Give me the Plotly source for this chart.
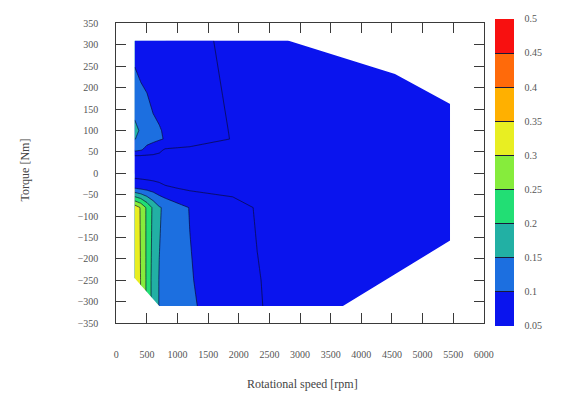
import plotly.graph_objects as go

# ---- data -----------------------------------------------------------------
# Grid of operating points: rotational speed [rpm] x torque [Nm]
speed = [300, 400, 500, 600, 700, 800, 1200, 1900, 2300, 3000, 4500, 5450]
torque = [-310, -250, -80, -35, 0, 40, 55, 80, 100, 310]

# Loss ratio at each (torque row, speed column)
loss_m310 = [0.340, 0.298, 0.240, 0.180, 0.148, 0.140, 0.108, 0.062, 0.053, 0.030, 0.020, 0.020]
loss_m250 = [0.340, 0.298, 0.240, 0.180, 0.148, 0.140, 0.104, 0.060, 0.052, 0.030, 0.020, 0.020]
loss_m80 = [0.330, 0.295, 0.240, 0.190, 0.155, 0.140, 0.098, 0.065, 0.047, 0.032, 0.020, 0.020]
loss_m35 = [0.101, 0.092, 0.085, 0.078, 0.068, 0.057, 0.043, 0.038, 0.034, 0.030, 0.025, 0.020]
loss_0 = [0.025, 0.024, 0.023, 0.022, 0.022, 0.021, 0.020, 0.020, 0.020, 0.020, 0.020, 0.020]
loss_40 = [0.045, 0.044, 0.043, 0.042, 0.041, 0.040, 0.038, 0.035, 0.030, 0.025, 0.020, 0.020]
loss_55 = [0.115, 0.105, 0.085, 0.075, 0.060, 0.045, 0.040, 0.035, 0.030, 0.025, 0.020, 0.020]
loss_80 = [0.152, 0.135, 0.120, 0.112, 0.105, 0.097, 0.075, 0.048, 0.040, 0.030, 0.025, 0.020]
loss_100 = [0.160, 0.145, 0.130, 0.110, 0.103, 0.095, 0.076, 0.047, 0.040, 0.030, 0.025, 0.020]
loss_310 = [0.075, 0.061, 0.058, 0.057, 0.056, 0.056, 0.055, 0.046, 0.040, 0.030, 0.025, 0.020]

loss = [loss_m310, loss_m250, loss_m80, loss_m35, loss_0,
        loss_40, loss_55, loss_80, loss_100, loss_310]

# Torque envelope of the machine (upper and lower limit curves)
env_top_speed = [300, 2800, 4550, 5450]
env_top_torque = [310, 310, 232, 160]
env_bot_speed = [300, 700, 3700, 5450]
env_bot_torque = [-245, -310, -310, -157]

# Contour levels and band colours
levels = [0.05, 0.1, 0.15, 0.2, 0.25, 0.3, 0.35, 0.4, 0.45, 0.5]
level_labels = ["0.05", "0.1", "0.15", "0.2", "0.25", "0.3", "0.35", "0.4", "0.45", "0.5"]
band_colors = ["#0a14ee", "#1c6fe0", "#22b0a4", "#22de74", "#86ec3c",
               "#e8ee22", "#ffb000", "#ff6a0a", "#f81010"]

x_ticks = [0, 500, 1000, 1500, 2000, 2500, 3000, 3500, 4000, 4500, 5000, 5500, 6000]
y_ticks = [350, 300, 250, 200, 150, 100, 50, 0, -50, -100, -150, -200, -250, -300, -350]

# ---- styling ---------------------------------------------------------------
W, H = 569, 399
x_range = [0, 6000]
y_range = [-350, 350]
step = levels[1] - levels[0]
n_lev = len(levels)
n_band = n_lev - 1
sep_col = "#1a1a3a"

# colour scale for the contour fills (evaluated at band centres)
contour_scale = [[0.0, band_colors[0]]]
for i, c in enumerate(band_colors):
    contour_scale.append([(i + 1) / n_lev, c])
contour_scale.append([1.0, band_colors[-1]])

# stepped colour scale for the colour bar, with thin dark separators
bar_len_px = 307
d = 0.6 / bar_len_px
bar_scale = []
for i, c in enumerate(band_colors):
    lo, hi = i / n_band, (i + 1) / n_band
    if i > 0:
        bar_scale.append([lo + d, sep_col])
        bar_scale.append([lo + d, c])
    else:
        bar_scale.append([lo, c])
    if i < n_band - 1:
        bar_scale.append([hi - d, c])
        bar_scale.append([hi - d, sep_col])
    else:
        bar_scale.append([hi, c])

serif = "Liberation Serif, serif"
tick_font = dict(family=serif, size=10, color="#555555")
title_font = dict(family=serif, size=12, color="#444444")
frame_col = "#3a3a3a"

px = lambda v: v / W
py = lambda v: 1 - v / H

fig = go.Figure()

# cell map of the same grid (grid points used as cell edges); it lies fully
# underneath the contour fill and supplies the stepped colour bar
cell_loss = [row[:-1] for row in loss[:-1]]
fig.add_trace(go.Heatmap(
    x=speed, y=torque, z=cell_loss,
    colorscale=bar_scale, zmin=levels[0], zmax=levels[-1],
    hoverinfo="skip",
    colorbar=dict(
        thickness=19, thicknessmode="pixels",
        len=bar_len_px, lenmode="pixels",
        x=px(503), xanchor="left", xpad=0,
        y=py(18 + bar_len_px / 2), yanchor="middle", ypad=0,
        outlinewidth=0,
        tickvals=levels, ticktext=level_labels,
        ticks="outside", ticklen=9, tickcolor="rgba(0,0,0,0)",
        tickfont=tick_font,
    ),
))

fig.add_trace(go.Contour(
    x=speed, y=torque, z=loss,
    colorscale=contour_scale,
    contours=dict(start=levels[0], end=levels[-1], size=step, coloring="fill"),
    line=dict(color="rgba(10,10,50,0.75)", width=0.9, smoothing=0),
    showscale=False,
    hoverinfo="skip",
))

# blank out the part of the speed/torque grid outside the torque envelope
pad_x = 0.004 * (x_range[1] - x_range[0])
pad_y = 0.004 * (y_range[1] - y_range[0])
s_lo, s_hi = speed[0] - pad_x, speed[-1] + pad_x
t_lo, t_hi = torque[0] - pad_y, torque[-1] + pad_y
top_x = env_top_speed + [s_hi, s_hi, s_lo, s_lo]
top_y = env_top_torque + [env_top_torque[-1], t_hi, t_hi, env_top_torque[0]]
bot_x = env_bot_speed + [s_hi, s_hi, s_lo, s_lo]
bot_y = env_bot_torque + [env_bot_torque[-1], t_lo, t_lo, env_bot_torque[0]]
fig.add_trace(go.Scatter(
    x=top_x + [None] + bot_x, y=top_y + [None] + bot_y,
    mode="lines", fill="toself", fillcolor="white",
    line=dict(width=0, color="white"), hoverinfo="skip", showlegend=False,
))

axis_common = dict(
    showline=True, linecolor=frame_col, linewidth=1, mirror="ticks",
    ticks="inside", ticklen=10, tickcolor=frame_col, tickwidth=1,
    showgrid=False, zeroline=False, tickfont=tick_font,
)

fig.update_layout(
    width=W, height=H,
    margin=dict(l=0, r=0, t=0, b=0),
    paper_bgcolor="white", plot_bgcolor="white",
    showlegend=False,
    xaxis=dict(domain=[px(116), px(492)], range=x_range, tickvals=x_ticks,
               ticklabelstandoff=22, **axis_common),
    yaxis=dict(domain=[py(327), py(18)], range=y_range, tickvals=y_ticks,
               ticklabelstandoff=15, **axis_common),
    annotations=[
        dict(text="Torque [Nm]", x=px(22), y=py(169), xref="paper", yref="paper",
             xanchor="center", yanchor="middle",
             textangle=-90, showarrow=False, font=title_font),
        dict(text="Rotational speed [rpm]", x=px(306), y=py(390), xref="paper",
             yref="paper", xanchor="center", yanchor="middle",
             showarrow=False, font=title_font),
    ],
)

fig.write_html("out.html")
